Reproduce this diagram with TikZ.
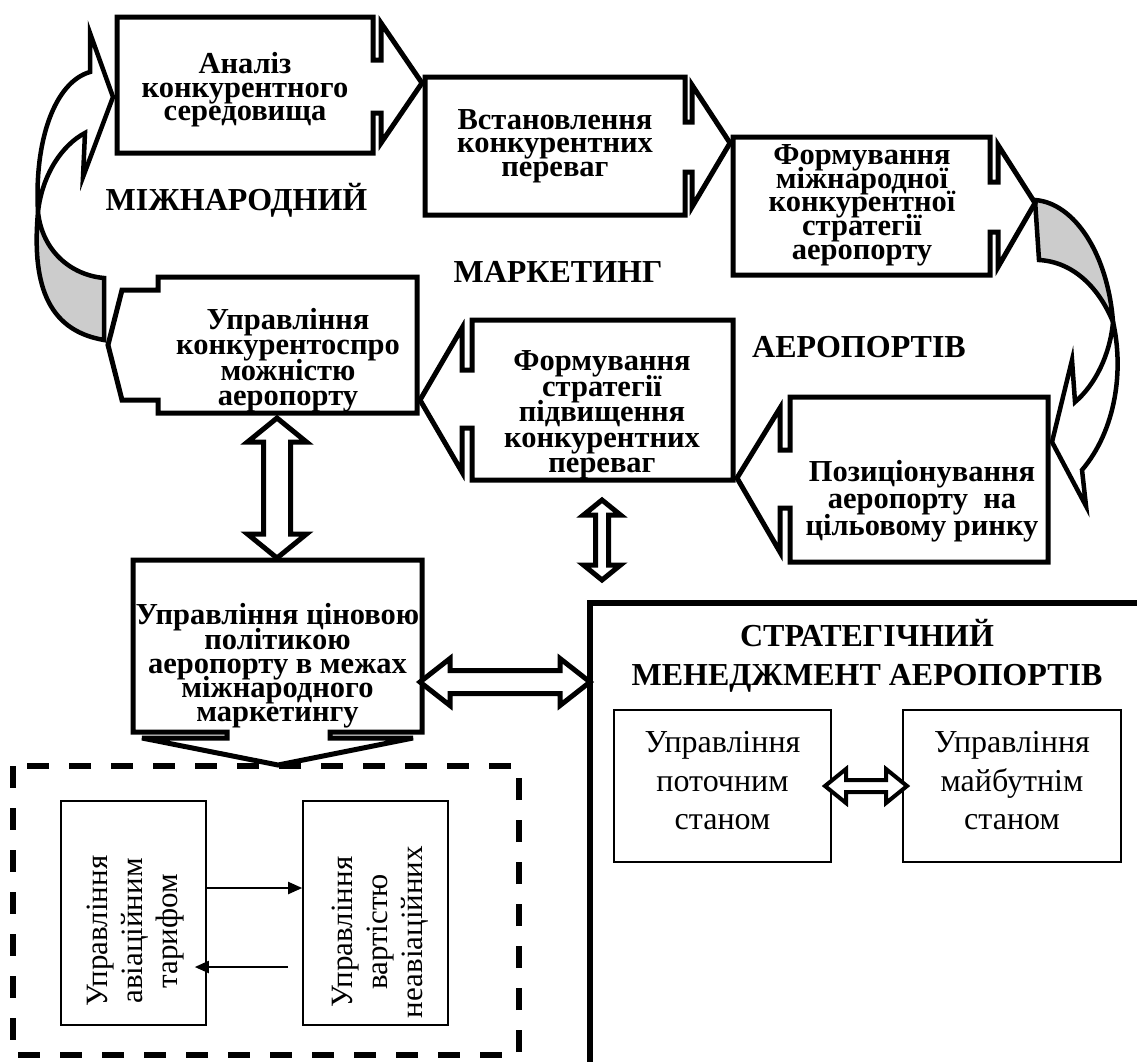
\documentclass[tikz,border=0pt]{standalone}
\usepackage{fontspec}
\setmainfont{Liberation Serif}
\usetikzlibrary{arrows.meta,calc}

% bold box text with a fixed line pitch (#1)
\newcommand\boxfont[1]{\fontsize{30.5}{#1}\selectfont\bfseries\lineskiplimit=-100pt\lineskip=0pt}

% vertical hollow double arrow: top tip, bottom tip, shaft half width, head half width, head length
\newcommand\vdarrow[5]{%
  \draw[hollow] (#1) -- ++(#4,#5) -- ++({-(#4-#3)},0) -- ($(#2)+(#3,-#5)$) -- ++({#4-#3},0)
    -- (#2) -- ++(-#4,-#5) -- ++({#4-#3},0) -- ($(#1)+(-#3,#5)$) -- ++({-(#4-#3)},0) -- cycle;}
% horizontal hollow double arrow: left tip, right tip, shaft half height, head half height, head length
\newcommand\hdarrow[5]{%
  \draw[hollow] (#1) -- ++(#5,-#4) -- ++(0,{#4-#3}) -- ($(#2)+(-#5,-#3)$) -- ++(0,{-(#4-#3)})
    -- (#2) -- ++(-#5,#4) -- ++(0,{-(#4-#3)}) -- ($(#1)+(#5,#3)$) -- ++(0,{#4-#3}) -- cycle;}

\begin{document}
\begin{tikzpicture}[x=1pt,y=-1pt,
  shape line/.style={draw=black,line width=5pt,line join=miter,miter limit=10,fill=white},
  hollow/.style={draw=black,line width=5pt,line join=miter,fill=white},
  ribbon/.style={draw=black,line width=4.5pt,line join=miter,miter limit=8,fill=white},
  ribbon back/.style={ribbon,fill=black!20},
  boxtext/.style={align=center,inner sep=0pt,font=\boxfont{#1}},
  boxtext/.default=23.5,
  labeltext/.style={inner sep=0pt,anchor=base,font=\fontsize{32}{32}\selectfont\bfseries},
  plainbox/.style={draw=black,line width=1.6pt,inner sep=0pt},
  plaintext/.style={align=center,inner sep=0pt,font=\fontsize{32}{38.5}\selectfont},
  sidetext/.style={align=center,inner sep=0pt,rotate=90,font=\fontsize{31}{35}\selectfont},
  thin arrow/.style={line width=2pt,-{Triangle[length=14pt,width=12pt]}},
]
\fill[white] (0,0) rectangle (1137,1061);
\useasboundingbox (0,0) rectangle (1137,1061);

% ---- left curved arrow (back part shaded, front part white)
\coordinate (lc) at (38,212);
\draw[ribbon back] (lc) .. controls (32,280) and (45,330) .. (104,340) -- (104,278)
   .. controls (70,275) and (42,250) .. (lc) -- cycle;
\draw[ribbon] (lc) .. controls (34,140) and (55,82) .. (90,72) -- (90,33) -- (113,97)
   -- (83,177) -- (85,133) .. controls (62,145) and (42,175) .. (lc) -- cycle;

% ---- right curved arrow
\coordinate (rc) at (1113,322);
\draw[ribbon back] (1035,200) .. controls (1075,203) and (1108,255) .. (rc)
   .. controls (1100,290) and (1075,262) .. (1039,260) -- cycle;
\draw[ribbon] (rc) .. controls (1124,370) and (1116,430) .. (1082,470) -- (1086,506)
   -- (1052,442) -- (1072,360) -- (1075,402) .. controls (1095,385) and (1110,355) .. (rc) -- cycle;

% ---- arrow-shaped boxes of the marketing cycle
\draw[shape line] (117,17) -- (373,17) -- (373,60) -- (381,60) -- (381,23) -- (422,83)
   -- (381,143) -- (381,113) -- (373,113) -- (373,153) -- (117,153) -- cycle;
\node[boxtext=23.5] (b1) at (245,90) {Аналіз\\конкурентного\\середовища};

\draw[shape line] (425,77) -- (685,77) -- (685,122) -- (692,122) -- (692,85) -- (730,143)
   -- (692,207) -- (692,172) -- (685,172) -- (685,215) -- (425,215) -- cycle;
\node[boxtext=23.5] (b2) at (555,146) {Встановлення\\конкурентних\\переваг};

\draw[shape line] (733,137) -- (990,137) -- (990,182) -- (998,182) -- (998,145) -- (1035,203)
   -- (998,267) -- (998,232) -- (990,232) -- (990,275) -- (733,275) -- cycle;
\node[boxtext=23.7] (b3) at (862,205)
   {Формування\\міжнародної\\конкурентної\\стратегії\\аеропорту};

\draw[shape line] (158,277) -- (417,277) -- (417,413) -- (158,413) -- (158,400) -- (122,400)
   -- (108,345) -- (122,290) -- (158,290) -- cycle;
\node[boxtext=25.5] (b4) at (288,360) {Управління\\конкурентоспро\\можністю\\аеропорту};

\draw[shape line] (472,320) -- (733,320) -- (733,480) -- (472,480) -- (472,428) -- (462,428)
   -- (462,472) -- (420,400) -- (462,328) -- (462,370) -- (472,370) -- cycle;
\node[boxtext=25.5] (b5) at (602,415)
   {Формування\\стратегії\\підвищення\\конкурентних\\переваг};

\draw[shape line] (790,397) -- (1048,397) -- (1048,562) -- (790,562) -- (790,508) -- (780,508)
   -- (780,552) -- (737,478) -- (780,408) -- (780,450) -- (790,450) -- cycle;
\node[boxtext=27] (b6) at (922,501)
   {Позиціонування\\аеропорту\ \ на\\цільовому ринку};

\draw[shape line] (133,560) -- (422,560) -- (422,732) -- (330,732) -- (330,738) -- (413,738)
   -- (278,765) -- (142,738) -- (227,738) -- (227,732) -- (133,732) -- cycle;
\node[boxtext=24.3] (b7) at (277.5,666)
   {Управління ціновою\\політикою\\аеропорту в межах\\міжнародного\\маркетингу};

% ---- captions between the boxes
\node[labeltext] (l1) at (236.5,210) {МІЖНАРОДНИЙ};
\node[labeltext] (l2) at (558,282) {МАРКЕТИНГ};
\node[labeltext] (l3) at (859,357) {АЕРОПОРТІВ};

% ---- hollow double arrows
\coordinate (v1t) at (277,418);
\coordinate (v1b) at (277,558);
\vdarrow{v1t}{v1b}{13.5}{29.5}{24}
\coordinate (v2t) at (602,500);
\coordinate (v2b) at (602,580);
\vdarrow{v2t}{v2b}{6.5}{18.5}{15}
\coordinate (h1l) at (420,682);
\coordinate (h1r) at (590,682);
\hdarrow{h1l}{h1r}{11.5}{23.5}{30}

% ---- strategic management block
\draw[line width=6pt] (590,1075) -- (590,603) -- (1150,603);
\node[inner sep=0pt,align=center,font=\fontsize{32}{39}\selectfont\bfseries] (st) at (867,656)
   {СТРАТЕГІЧНИЙ\\МЕНЕДЖМЕНТ АЕРОПОРТІВ};
\node[plainbox,minimum width=217pt,minimum height=152pt] (c1) at (722.5,786) {};
\node[plaintext] (c1t) at (722.5,781) {Управління\\поточним\\станом};
\node[plainbox,minimum width=218pt,minimum height=152pt] (c2) at (1012,786) {};
\node[plaintext] (c2t) at (1012,781) {Управління\\майбутнім\\станом};
\coordinate (h2l) at (825,786);
\coordinate (h2r) at (907,786);
\begin{scope}[hollow/.append style={line width=4pt}]
\hdarrow{h2l}{h2r}{6}{17}{21}
\end{scope}

% ---- price policy detail (dashed frame)
\draw[line width=6pt,dash pattern=on 22pt off 20pt] (13,766) rectangle (519,1055);
\node[plainbox,minimum width=145pt,minimum height=224pt] (p1) at (133.5,913) {};
\node[sidetext] (p1t) at (136,931) {Управління\\авіаційним\\тарифом};
\node[plainbox,minimum width=145pt,minimum height=224pt] (p2) at (375.5,913) {};
\node[sidetext] (p2t) at (380,932) {Управління\\вартістю\\неавіаційних};
\draw[thin arrow] ($(p1.east)+(0,-25)$) -- ($(p2.west)+(0,-25)$);
\draw[thin arrow,shorten <=14pt,shorten >=-12pt] ($(p2.west)+(0,54)$) -- ($(p1.east)+(0,54)$);
\end{tikzpicture}
\end{document}
